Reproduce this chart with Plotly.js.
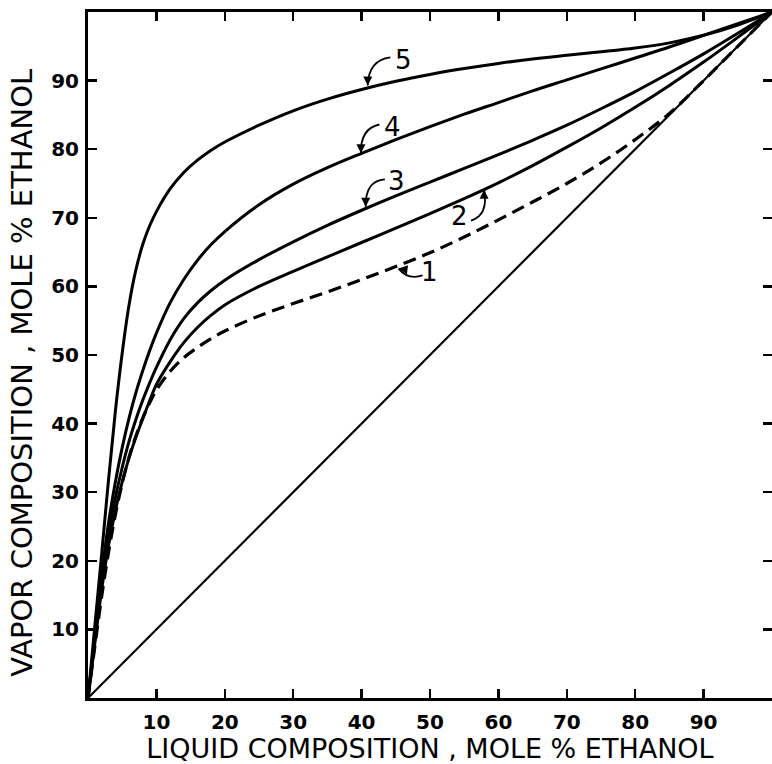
<!DOCTYPE html>
<html>
<head>
<meta charset="utf-8">
<script src="https://cdn.plot.ly/plotly-3.0.1.min.js"></script>
<style>html,body{margin:0;padding:0;background:#fff;}#chart{width:772px;height:764px;}</style>
</head>
<body>
<div id="chart"></div>
<script>
// Liquid composition (mole % ethanol) grid and vapor composition (mole % ethanol), curves 1-5
const liquidX = [0, 1, 2, 3, 4, 5, 6, 7, 8, 9, 10, 12, 14, 16, 18, 20, 25, 30, 35, 40, 45, 50, 55, 60, 65, 70, 75, 80, 85, 90, 95, 100];
const curve1Y = [0, 7.5, 14.8, 21.2, 26.7, 31.3, 35.1, 38.2, 40.8, 43.0, 44.9, 47.6, 49.6, 51.1, 52.4, 53.5, 55.7, 57.5, 59.2, 61.0, 62.9, 64.9, 67.2, 69.7, 72.3, 75.0, 78.0, 81.4, 85.2, 90.0, 95.0, 100];
const curve2Y = [0, 8, 15.8, 22.2, 27.3, 31.5, 35.0, 38.0, 40.7, 43.3, 45.7, 49.0, 51.8, 54.0, 55.8, 57.3, 60.0, 62.2, 64.3, 66.4, 68.5, 70.6, 72.8, 75.1, 77.6, 80.3, 83.1, 86.1, 89.3, 92.7, 96.3, 100];
const curve3Y = [0, 8.5, 16.8, 23.8, 29.2, 33.6, 37.4, 40.6, 43.4, 45.9, 48.2, 52.2, 55.3, 57.6, 59.4, 60.9, 63.9, 66.5, 68.9, 71.1, 73.2, 75.2, 77.2, 79.2, 81.3, 83.5, 85.9, 88.4, 91.1, 93.9, 96.9, 100];
const curve4Y = [0, 9, 18, 25.5, 31.5, 36.5, 40.8, 44.5, 47.7, 50.6, 53.2, 57.6, 61.0, 63.8, 66.1, 68.0, 71.9, 74.9, 77.3, 79.4, 81.4, 83.3, 85.1, 86.8, 88.5, 90.1, 91.7, 93.3, 94.9, 96.6, 98.3, 100];
const curve5Y = [0, 10.5, 21, 31.8, 41.8, 50.3, 57.3, 62.4, 66.1, 68.8, 70.9, 74.2, 76.6, 78.4, 79.85, 81.05, 83.5, 85.6, 87.3, 88.7, 89.9, 90.9, 91.75, 92.5, 93.15, 93.7, 94.2, 94.75, 95.5, 96.6, 98.1, 100];

const diagX = [0, 100];
const diagY = [0, 100];

const tickVals = [10, 20, 30, 40, 50, 60, 70, 80, 90];
const tickText = ['10', '20', '30', '40', '50', '60', '70', '80', '90'];

const curveLabels = ['1', '2', '3', '4', '5'];
const xTitle = 'LIQUID COMPOSITION , MOLE % ETHANOL';
const yTitle = 'VAPOR COMPOSITION , MOLE % ETHANOL';

const solid = {color: '#000', width: 3, shape: 'spline', smoothing: 1};
const traces = [
  {x: diagX, y: diagY, mode: 'lines', line: {color: '#000', width: 2.2}, hoverinfo: 'skip'},
  {x: liquidX, y: curve1Y, mode: 'lines', line: {color: '#000', width: 3.2, dash: '13px,7px', shape: 'spline', smoothing: 1}},
  {x: liquidX, y: curve2Y, mode: 'lines', line: solid},
  {x: liquidX, y: curve3Y, mode: 'lines', line: solid},
  {x: liquidX, y: curve4Y, mode: 'lines', line: solid},
  {x: liquidX, y: curve5Y, mode: 'lines', line: solid},
  {x: [], y: [], yaxis: 'y2', mode: 'lines', hoverinfo: 'skip'}
];

const labelFont = {family: 'DejaVu Sans', size: 26, color: '#000'};
// label text positions and curved pointer arrows (data coordinates)
const labelPos = [[49.9, 62.1], [54.3, 70.2], [45.1, 75.3], [44.5, 83.3], [46.1, 93.0]];
const arrowPaths = [
  [[48.9, 61.6], [46.8, 60.9], [45.4, 62.6]],
  [[56.0, 69.6], [58.6, 70.4], [57.9, 74.1]],
  [[43.4, 75.6], [40.5, 75.4], [40.6, 71.6]],
  [[42.6, 83.6], [39.8, 83.0], [39.9, 79.4]],
  [[44.2, 93.4], [41.0, 93.0], [40.9, 89.3]]
];
const headDir = [[8, 1], [0, 9], [0, -9], [0, -9], [0, -9]];

const shapes = arrowPaths.map(p => ({
  type: 'path', xref: 'x', yref: 'y',
  path: `M ${p[0][0]},${p[0][1]} Q ${p[1][0]},${p[1][1]} ${p[2][0]},${p[2][1]}`,
  line: {color: '#000', width: 1.8}
}));

const annotations = [];
curveLabels.forEach((t, i) => {
  annotations.push({x: labelPos[i][0], y: labelPos[i][1], xref: 'x', yref: 'y', text: t, showarrow: false, font: labelFont});
  annotations.push({x: arrowPaths[i][2][0], y: arrowPaths[i][2][1], xref: 'x', yref: 'y', text: '', showarrow: true,
    ax: headDir[i][0], ay: headDir[i][1], arrowhead: 2, arrowsize: 1, arrowwidth: 1.8, arrowcolor: '#000'});
});
// vertical axis title
annotations.push({xref: 'paper', yref: 'paper', x: -0.0965, y: 0.474, xanchor: 'center', yanchor: 'middle',
  text: yTitle, textangle: -90, showarrow: false, font: {family: 'DejaVu Sans', size: 29, color: '#000'}});

const tickFont = {family: 'DejaVu Sans', size: 20, color: '#000', weight: 'bold'};
const titleFont = {family: 'DejaVu Sans', size: 27, color: '#000'};
const layout = {
  width: 772, height: 764,
  margin: {l: 88, r: 0, t: 12, b: 66},
  paper_bgcolor: '#fff', plot_bgcolor: '#fff',
  showlegend: false,
  xaxis: {
    range: [0, 100], tickvals: tickVals, ticktext: tickText,
    ticks: 'inside', ticklen: 9, tickwidth: 2.5, tickcolor: '#000',
    showline: true, linecolor: '#000', linewidth: 3, mirror: 'ticks',
    showgrid: false, zeroline: false, tickfont: tickFont, ticklabelstandoff: 4,
    title: {text: xTitle, font: titleFont, standoff: 4}
  },
  yaxis: {
    range: [0, 100], tickvals: tickVals, ticktext: tickText,
    ticks: 'inside', ticklen: 9, tickwidth: 2.5, tickcolor: '#000',
    showline: true, linecolor: '#000', linewidth: 3, mirror: false,
    showgrid: false, zeroline: false, tickfont: tickFont, ticklabelstandoff: 2
  },
  yaxis2: {
    range: [0, 100], overlaying: 'y', side: 'right', tickvals: tickVals,
    ticks: 'inside', ticklen: 9, tickwidth: 2.5, tickcolor: '#000',
    showticklabels: false, showline: false, showgrid: false, zeroline: false
  },
  shapes: shapes,
  annotations: annotations
};

Plotly.newPlot('chart', traces, layout, {displayModeBar: false, staticPlot: true});
</script>
</body>
</html>
